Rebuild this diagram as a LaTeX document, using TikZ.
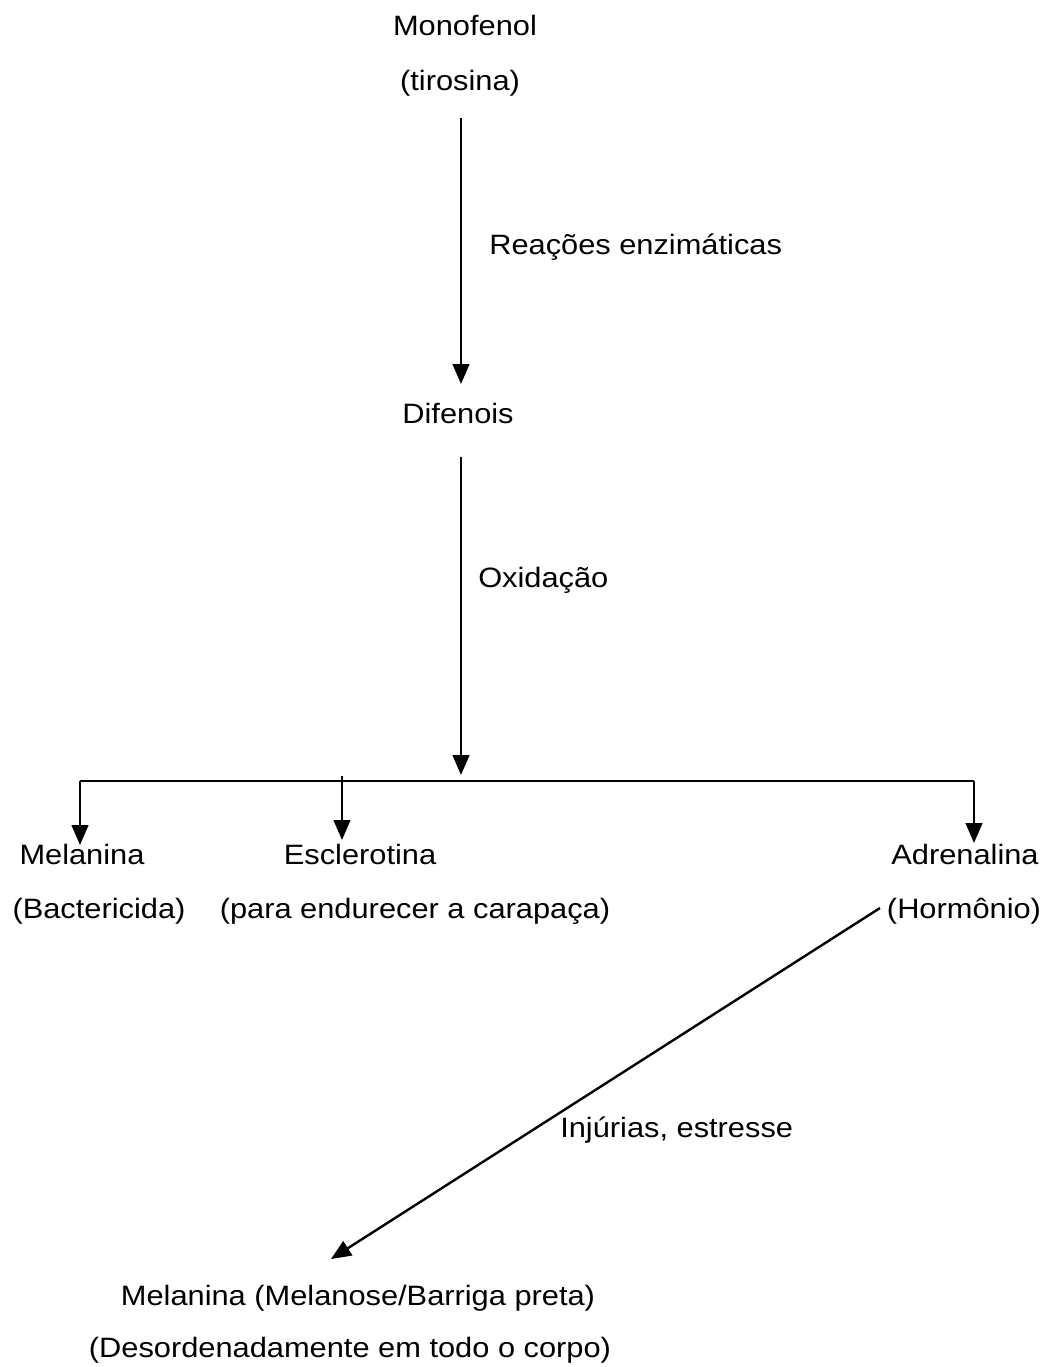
\documentclass[tikz,border=0pt]{standalone}
\usepackage{fontspec}
\setmainfont{Liberation Sans}[FakeStretch=1.1]
\usetikzlibrary{arrows.meta}
\begin{document}
\begin{tikzpicture}[x=0.75pt,y=-0.75pt,
  lbl/.style={inner sep=0pt,anchor=base,font=\fontsize{21pt}{25pt}\selectfont},
  lblw/.style={lbl,anchor=base west},
  conn/.style={line width=1.8pt,black},
  arr/.style={conn,-{Triangle[length=15pt,width=12.5pt]}}]
\useasboundingbox (0,0) rectangle (1046,1367);

% labels
\node[lbl] (mono) at (465,35) {Monofenol};
\node[lbl] (tiro) at (460,90) {(tirosina)};
\node[lblw] (reac) at (489,254) {Reações enzimáticas};
\node[lbl] (dif) at (458,423) {Difenois};
\node[lblw] (oxi) at (478,587) {Oxidação};
\node[lbl] (mel) at (82,864) {Melanina};
\node[lbl] (bact) at (99,918) {(Bactericida)};
\node[lbl] (escl) at (360,864) {Esclerotina};
\node[lbl] (para) at (415,918) {(para endurecer a carapaça)};
\node[lbl] (adr) at (965,864) {Adrenalina};
\node[lbl] (horm) at (964,918) {(Hormônio)};
\node[lblw] (inj) at (560,1137) {Injúrias, estresse};
\node[lbl] (melb) at (358,1305) {Melanina (Melanose/Barriga preta)};
\node[lbl] (deso) at (350,1357) {(Desordenadamente em todo o corpo)};

% connector end points
\coordinate (p1) at (461,118);
\coordinate (p2) at (461,384);
\coordinate (p3) at (461,457);
\coordinate (p4) at (461,775);
\coordinate (busL) at (80,781);
\coordinate (busR) at (974,781);
\coordinate (melT) at (80,845);
\coordinate (esS) at (342,776);
\coordinate (esT) at (342,840);
\coordinate (adT) at (974,843);
\coordinate (dgS) at (880,908);
\coordinate (dgT) at (331,1259);

% connectors
\draw[arr] (p1) -- (p2);
\draw[arr] (p3) -- (p4);
\draw[conn] (busL) -- (busR);
\draw[arr] (busL) -- (melT);
\draw[arr] (esS) -- (esT);
\draw[arr] (busR) -- (adT);
\draw[arr] (dgS) -- (dgT);
\end{tikzpicture}
\end{document}
